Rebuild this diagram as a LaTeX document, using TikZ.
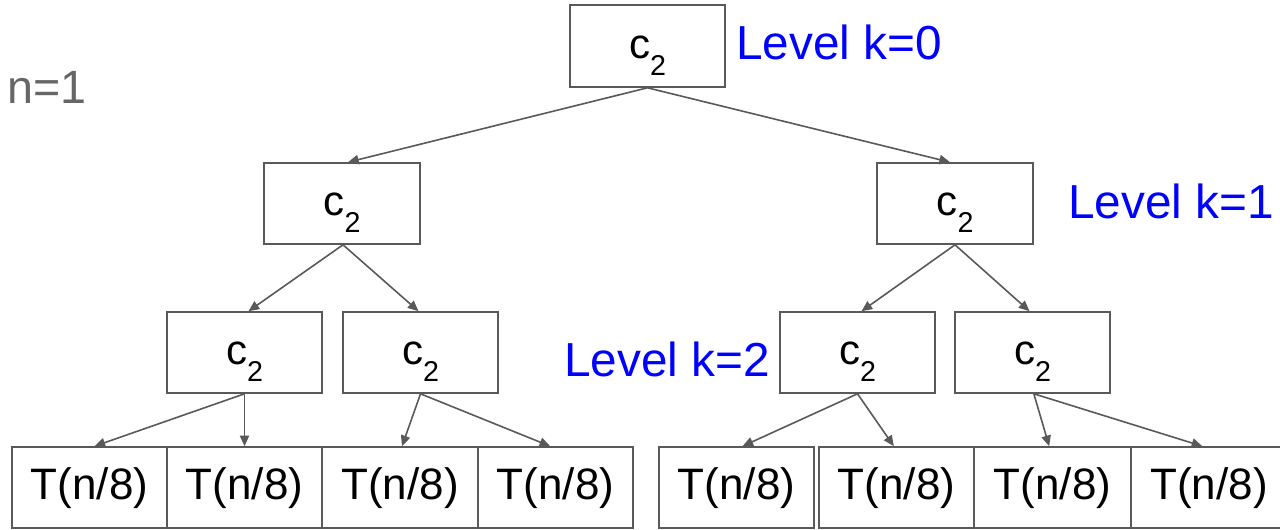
\documentclass[tikz,border=0pt]{standalone}
\usepackage{fontspec}
\setmainfont{Liberation Sans}
\usetikzlibrary{arrows.meta}
\definecolor{linegray}{HTML}{595959}
\definecolor{txtgray}{HTML}{666666}
\definecolor{lvlblue}{HTML}{0000FF}
\newcommand{\ctwo}{{\fontsize{31.5pt}{33pt}\selectfont c\raisebox{-12.75pt}{\fontsize{21.5pt}{22pt}\selectfont 2}}}
\tikzset{
  box/.style={draw=linegray, line width=1.2pt, minimum width=116.25pt, minimum height=60.75pt,
    inner sep=0pt, text height=18.5pt, text depth=0pt, font=\fontsize{33pt}{35pt}\selectfont},
  arr/.style={draw=linegray, line width=1.2pt, -{Triangle[length=8pt,width=7pt]}},
  lvl/.style={text=lvlblue, font=\fontsize{35.8pt}{38pt}\selectfont, anchor=base west, inner sep=0pt}
}
\begin{document}
\begin{tikzpicture}[x=0.75pt,y=-0.75pt]
\clip (0,0) rectangle (1280,529);
% level 0
\node[box, minimum height=61.5pt] (top) at (647.5,46) {\ctwo};
% level 1
\node[box, minimum width=117pt] (l1a) at (342,203.5) {\ctwo};
\node[box, minimum width=117pt] (l1b) at (955,203.5) {\ctwo};
% level 2
\node[box] (l2a) at (244.5,352.5) {\ctwo};
\node[box] (l2b) at (420.5,352.5) {\ctwo};
\node[box] (l2c) at (857.5,352.5) {\ctwo};
\node[box] (l2d) at (1032.5,352.5) {\ctwo};
% leaves
\node[box] (t1) at (89.5,487.5) {T(n/8)};
\node[box] (t2) at (244.5,487.5) {T(n/8)};
\node[box, minimum width=117pt] (t3) at (400,487.5) {T(n/8)};
\node[box] (t4) at (555.5,487.5) {T(n/8)};
\node[box] (t5) at (736.5,487.5) {T(n/8)};
\node[box] (t6) at (896.5,487.5) {T(n/8)};
\node[box, minimum width=117.75pt] (t7) at (1052.5,487.5) {T(n/8)};
\node[box, minimum width=117pt] (t8) at (1209,487.5) {T(n/8)};
% arrows
\draw[arr] (top.south) -- ([xshift=4.5pt]l1a.north);
\draw[arr] (top.south) -- ([xshift=-3.75pt]l1b.north);
\draw[arr] ([xshift=.75pt]l1a.south) -- ([xshift=3pt]l2a.north);
\draw[arr] ([xshift=.75pt]l1a.south) -- ([xshift=-1.5pt]l2b.north);
\draw[arr] (l1b.south) -- ([xshift=3pt]l2c.north);
\draw[arr] (l1b.south) -- ([xshift=-2.25pt]l2d.north);
\draw[arr] (l2a.south) -- ([xshift=3.75pt]t1.north);
\draw[arr] (l2a.south) -- (t2.north);
\draw[arr] (l2b.south) -- ([xshift=1.5pt]t3.north);
\draw[arr] (l2b.south) -- ([xshift=-4pt]t4.north);
\draw[arr] (l2c.south) -- ([xshift=4.5pt]t5.north);
\draw[arr] (l2c.south) -- ([xshift=-2pt]t6.north);
\draw[arr] ([xshift=1pt]l2d.south) -- ([xshift=-2.5pt]t7.north);
\draw[arr] ([xshift=1pt]l2d.south) -- ([xshift=-5pt]t8.north);
% labels
\node[lvl] (lv0) at (736,59) {Level k=0};
\node[lvl] (lv1) at (1068,218) {Level k=1};
\node[lvl] (lv2) at (564,376) {Level k=2};
\node[anchor=base west, inner sep=0pt, text=txtgray, font=\fontsize{35pt}{37pt}\selectfont] (n1) at (7,103) {n=1};
\end{tikzpicture}
\end{document}
